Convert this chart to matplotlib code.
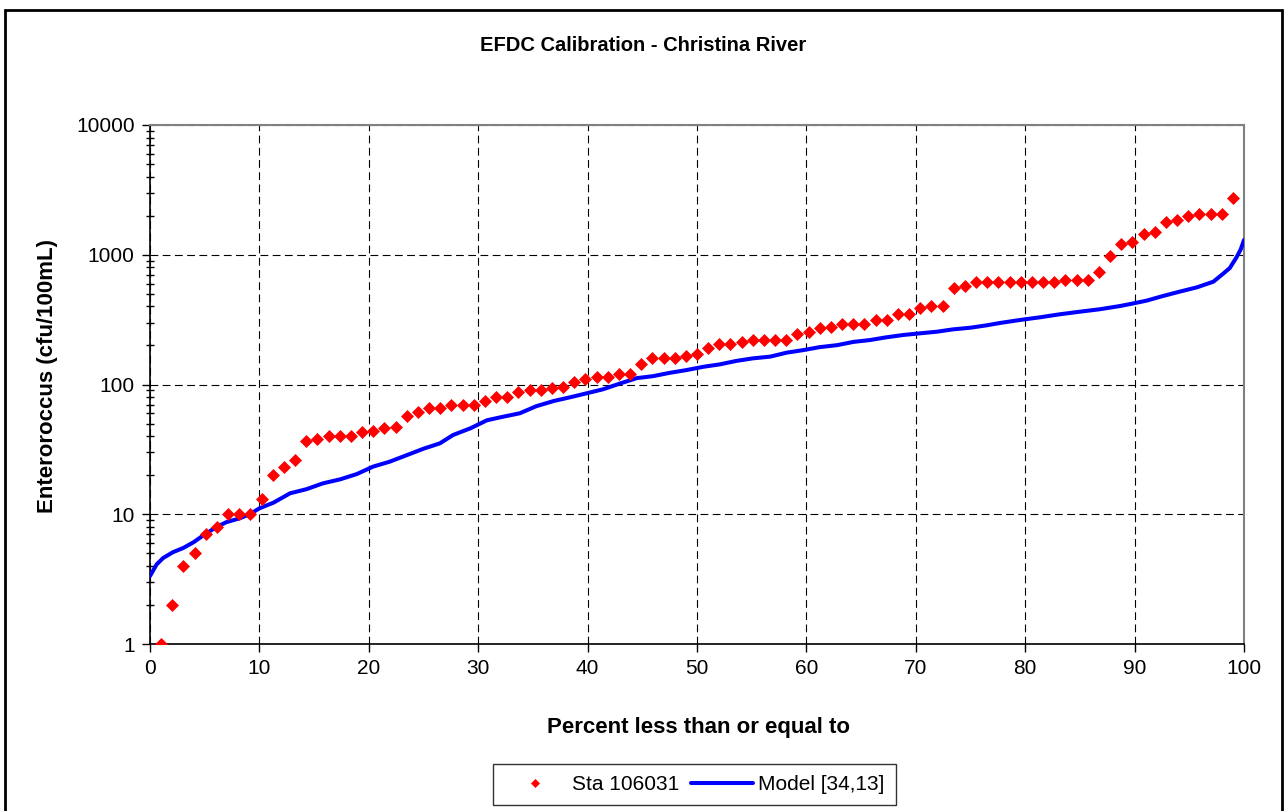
import matplotlib
matplotlib.use('Agg')
import matplotlib.pyplot as plt
from matplotlib.patches import Rectangle
from matplotlib.ticker import LogLocator, FuncFormatter, NullFormatter

# observed values, sorted (Sta 106031)
sta_values = [1, 2, 4, 5, 7, 8, 10, 10, 10, 13,
              20, 23, 26, 37, 38, 40, 40, 40, 43, 44,
              46, 47, 57, 61, 66, 66, 70, 70, 70, 74,
              80, 80, 87, 90, 90, 94, 96, 104, 110, 115,
              115, 120, 120, 144, 159, 159, 159, 166, 173, 190,
              205, 205, 213, 220, 220, 220, 220, 244, 254, 271,
              279, 291, 291, 291, 314, 314, 349, 349, 386, 403,
              403, 551, 574, 617, 617, 617, 617, 617, 617, 617,
              617, 639, 639, 639, 736, 973, 1211, 1254, 1438, 1497,
              1778, 1845, 1991, 2063, 2063, 2063, 2755]

# model curve
model_pct = [0, 0.6, 1.2, 2.1, 3.05, 4, 4.9, 6.1, 7, 8.2, 9.1, 10, 11.3, 12.8,
             14.3, 15.8, 17.4, 18.9, 20.4, 21.9, 23.5, 25, 26.5, 27.7, 29.3,
             30.8, 32.3, 33.8, 35.3, 36.9, 38.4, 39.9, 41.4, 43, 44.5, 46,
             47.5, 49, 50.6, 52.1, 53.6, 55.1, 56.7, 58.2, 59.7, 61.2, 62.8,
             64.3, 65.8, 67.3, 68.9, 70.4, 71.9, 73.4, 75, 76.5, 77.7, 79.5,
             81.4, 83.2, 85, 86.8, 88.7, 89.9, 91.1, 92.6, 94.1, 95.7, 97.2,
             98.1, 98.7, 99.3, 99.7, 100]
model_values = [3.34, 4.1, 4.6, 5.1, 5.5, 6.1, 6.9, 8.0, 8.7, 9.3, 10, 11.1, 12.3,
                14.5, 15.6, 17.3, 18.6, 20.4, 23.3, 25.4, 28.6, 32.0, 35.2, 40.8,
                46, 53, 56.5, 60, 68, 74.6, 79.7, 85.5, 91.8, 102, 112, 116, 123,
                129, 137, 143, 152, 159, 164, 176, 184, 194, 201, 213, 220, 231,
                241, 248, 255, 266, 274, 286, 298, 314, 330, 348, 364, 380, 403,
                422, 443, 481, 519, 561, 620, 715, 790, 950, 1100, 1300]

x_ticks = list(range(0, 101, 10))
y_ticks = [1, 10, 100, 1000, 10000]

plt.rcParams['font.family'] = ['Liberation Sans', 'DejaVu Sans']

n = len(sta_values)
sta_pct = [100.0 * (i + 1) / (n + 1) for i in range(n)]

fig = plt.figure(figsize=(12.86, 8.11), dpi=100)
ax = fig.add_axes([150 / 1286, 1 - 644 / 811, 1094 / 1286, 519 / 811])

ax.plot(model_pct, model_values, color='#0000ff', lw=2.9,
        solid_capstyle='round', label='Model [34,13]', zorder=3)
ax.plot(sta_pct, sta_values, linestyle='none', marker='D', markersize=5.8,
        color='#ff0000', markeredgewidth=0.5, label='Sta 106031', zorder=4)

ax.set_yscale('log')
ax.set_xlim(0, 100)
ax.set_ylim(1, 10000)
ax.set_xticks(x_ticks)
ax.set_yticks(y_ticks)
ax.yaxis.set_major_formatter(FuncFormatter(lambda v, p: '%d' % round(v)))
ax.yaxis.set_minor_locator(LogLocator(base=10, subs=range(2, 10)))
ax.yaxis.set_minor_formatter(NullFormatter())

ax.grid(True, which='major', color='black', linestyle=(0, (7, 4)), lw=0.8)
ax.tick_params(axis='both', which='major', direction='out', length=6,
               width=1, labelsize=15, pad=5)
ax.tick_params(axis='y', which='minor', direction='inout', length=6, width=1)
for side in ['top', 'right']:
    ax.spines[side].set_color('#808080')
    ax.spines[side].set_linewidth(1.5)
for side in ['left', 'bottom']:
    ax.spines[side].set_color('black')
    ax.spines[side].set_linewidth(1.2)

ax.set_xlabel('Percent less than or equal to', fontsize=16, fontweight='bold')
ax.xaxis.set_label_coords(0.501, -0.141)
ax.set_ylabel('Enteroroccus (cfu/100mL)', fontsize=16, fontweight='bold')
ax.yaxis.set_label_coords(-0.084, 0.516)

fig.text(0.5, 0.944, 'EFDC Calibration - Christina River', ha='center',
         va='center', fontsize=14.5, fontweight='bold')

handles, labels = ax.get_legend_handles_labels()
leg = fig.legend(handles[::-1], labels[::-1], loc='center',
                 bbox_to_anchor=(0.540, 0.0327), ncol=2, fontsize=15,
                 frameon=True, fancybox=False, edgecolor='black',
                 handlelength=3, handletextpad=0.25, columnspacing=0.55,
                 markerscale=0.75, borderpad=0.55)
leg.get_frame().set_linewidth(1)

fig.patches.append(Rectangle((5 / 1286, -0.02), 1277 / 1286, 1.02 - 10 / 811,
                             transform=fig.transFigure, fill=False,
                             edgecolor='black', lw=2))

fig.savefig('out.png', dpi=100)
plt.close(fig)
